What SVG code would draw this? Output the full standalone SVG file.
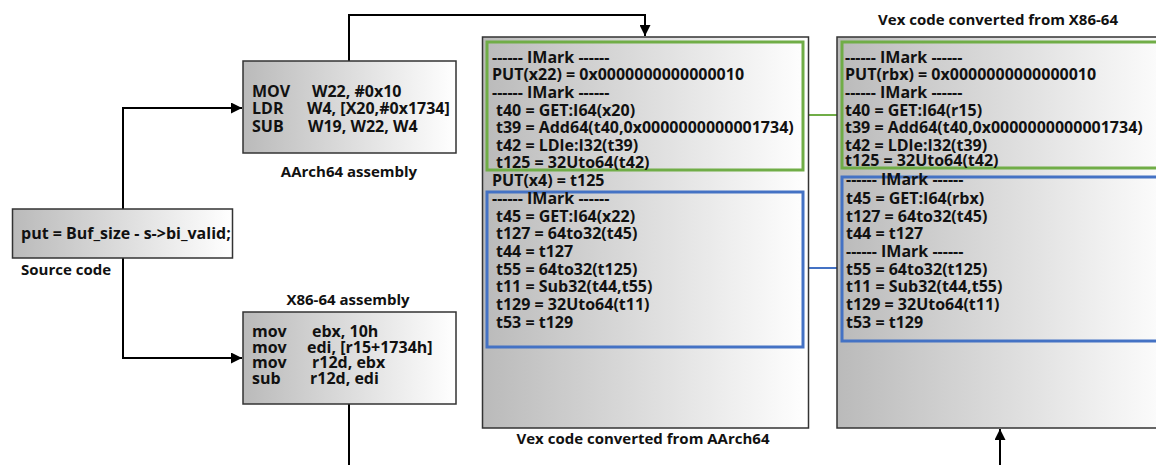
<svg xmlns="http://www.w3.org/2000/svg" width="1156" height="465" viewBox="0 0 1156 465">
<defs>
<linearGradient id="g" x1="0" y1="0" x2="1" y2="0">
<stop offset="0" stop-color="#bababa"/>
<stop offset="1" stop-color="#ffffff"/>
</linearGradient>
<marker id="ah" viewBox="0 0 10 10" refX="10" refY="5" markerWidth="5.5" markerHeight="5.5" orient="auto" markerUnits="strokeWidth">
<path d="M0,0 L10,5 L0,10 Z" fill="#000"/>
</marker>
<style>
.box{fill:url(#g);stroke:#333;stroke-width:1.5}
.code{font-family:"Open Sans",sans-serif;font-weight:bold;font-size:16px;fill:#111}
.cap{font-family:"Open Sans",sans-serif;font-weight:bold;font-size:15px;fill:#111}
.con{fill:none;stroke:#000;stroke-width:2}
.grn{fill:none;stroke:#70ad47;stroke-width:3}
.blu{fill:none;stroke:#4472c4;stroke-width:3}
.gl{stroke:#70ad47;stroke-width:2;fill:none}
.bl{stroke:#4472c4;stroke-width:2;fill:none}
</style>
</defs>
<rect width="1156" height="465" fill="#fff"/>

<g id="connectors">
<path class="con" d="M123,209 V108 H242" marker-end="url(#ah)"/>
<path class="con" d="M123,258 V358 H242" marker-end="url(#ah)"/>
<path class="con" d="M349,61 V15 H645 V36" marker-end="url(#ah)"/>
<path class="con" d="M349,404 V465"/>
<path class="con" d="M1000,465 V429" marker-end="url(#ah)"/>
<path class="gl" d="M805,115 H842"/>
<path class="bl" d="M805,268 H842"/>
</g>

<g id="source">
<rect class="box" x="12.5" y="209" width="220" height="49"/>
<text class="code" x="21" y="239">put = Buf_size - s-&gt;bi_valid;</text>
<text class="cap" x="21" y="275">Source code</text>
</g>

<g id="aarch64-asm">
<rect class="box" x="243" y="61" width="213" height="92"/>
<text class="code"><tspan x="252" y="97">MOV</tspan><tspan x="312" y="97">W22, #0x10</tspan><tspan x="252" y="114">LDR</tspan><tspan x="307" y="114">W4, [X20,#0x1734]</tspan><tspan x="252" y="132">SUB</tspan><tspan x="308" y="132">W19, W22, W4</tspan></text>
<text class="cap" x="349" y="177" text-anchor="middle">AArch64 assembly</text>
</g>

<g id="x86-asm">
<rect class="box" x="243" y="312" width="213" height="92"/>
<text class="code"><tspan x="252" y="337">mov</tspan><tspan x="312" y="337">ebx, 10h</tspan><tspan x="252" y="352.5">mov</tspan><tspan x="307" y="352.5">edi, [r15+1734h]</tspan><tspan x="252" y="368">mov</tspan><tspan x="312" y="368">r12d, ebx</tspan><tspan x="252" y="383.5">sub</tspan><tspan x="310" y="383.5">r12d, edi</tspan></text>
<text class="cap" x="348" y="305" text-anchor="middle">X86-64 assembly</text>
</g>

<g id="vex-aarch64">
<rect class="box" x="482.5" y="37" width="326" height="391"/>
<rect class="grn" x="487" y="42" width="316" height="128"/>
<rect class="blu" x="487" y="192" width="316" height="155"/>
<text class="code">
<tspan x="492" y="62.5">------ IMark ------</tspan>
<tspan x="492" y="80.2">PUT(x22) = 0x0000000000000010</tspan>
<tspan x="492" y="97.8">------ IMark ------</tspan>
<tspan x="496" y="115.5">t40 = GET:I64(x20)</tspan>
<tspan x="496" y="133.2">t39 = Add64(t40,0x0000000000001734)</tspan>
<tspan x="496" y="150.8">t42 = LDle:I32(t39)</tspan>
<tspan x="496" y="168">t125 = 32Uto64(t42)</tspan>
<tspan x="492" y="186.2">PUT(x4) = t125</tspan>
<tspan x="492" y="203.8">------ IMark ------</tspan>
<tspan x="496" y="221.5">t45 = GET:I64(x22)</tspan>
<tspan x="496" y="239.2">t127 = 64to32(t45)</tspan>
<tspan x="496" y="256.8">t44 = t127</tspan>
<tspan x="496" y="274.5">t55 = 64to32(t125)</tspan>
<tspan x="496" y="292.2">t11 = Sub32(t44,t55)</tspan>
<tspan x="496" y="309.8">t129 = 32Uto64(t11)</tspan>
<tspan x="496" y="327.5">t53 = t129</tspan>
</text>
<text class="cap" x="643" y="444" text-anchor="middle">Vex code converted from AArch64</text>
</g>

<g id="vex-x86">
<rect class="box" x="837" y="37" width="340" height="391"/>
<rect class="grn" x="842" y="42" width="330" height="126"/>
<rect class="blu" x="842" y="177" width="330" height="164"/>
<text class="code">
<tspan x="845" y="62.5">------ IMark ------</tspan>
<tspan x="845" y="80.2">PUT(rbx) = 0x0000000000000010</tspan>
<tspan x="845" y="97.8">------ IMark ------</tspan>
<tspan x="845" y="115.5">t40 = GET:I64(r15)</tspan>
<tspan x="845" y="133.2">t39 = Add64(t40,0x0000000000001734)</tspan>
<tspan x="845" y="150.8">t42 = LDle:I32(t39)</tspan>
<tspan x="845" y="166">t125 = 32Uto64(t42)</tspan>
<tspan x="846" y="185">------ IMark ------</tspan>
<tspan x="846" y="203.8">t45 = GET:I64(rbx)</tspan>
<tspan x="846" y="221.5">t127 = 64to32(t45)</tspan>
<tspan x="846" y="239.2">t44 = t127</tspan>
<tspan x="846" y="256.8">------ IMark ------</tspan>
<tspan x="846" y="274.5">t55 = 64to32(t125)</tspan>
<tspan x="846" y="292.2">t11 = Sub32(t44,t55)</tspan>
<tspan x="846" y="309.8">t129 = 32Uto64(t11)</tspan>
<tspan x="846" y="327.5">t53 = t129</tspan>
</text>
<text class="cap" x="998" y="25" text-anchor="middle">Vex code converted from X86-64</text>
</g>
</svg>
